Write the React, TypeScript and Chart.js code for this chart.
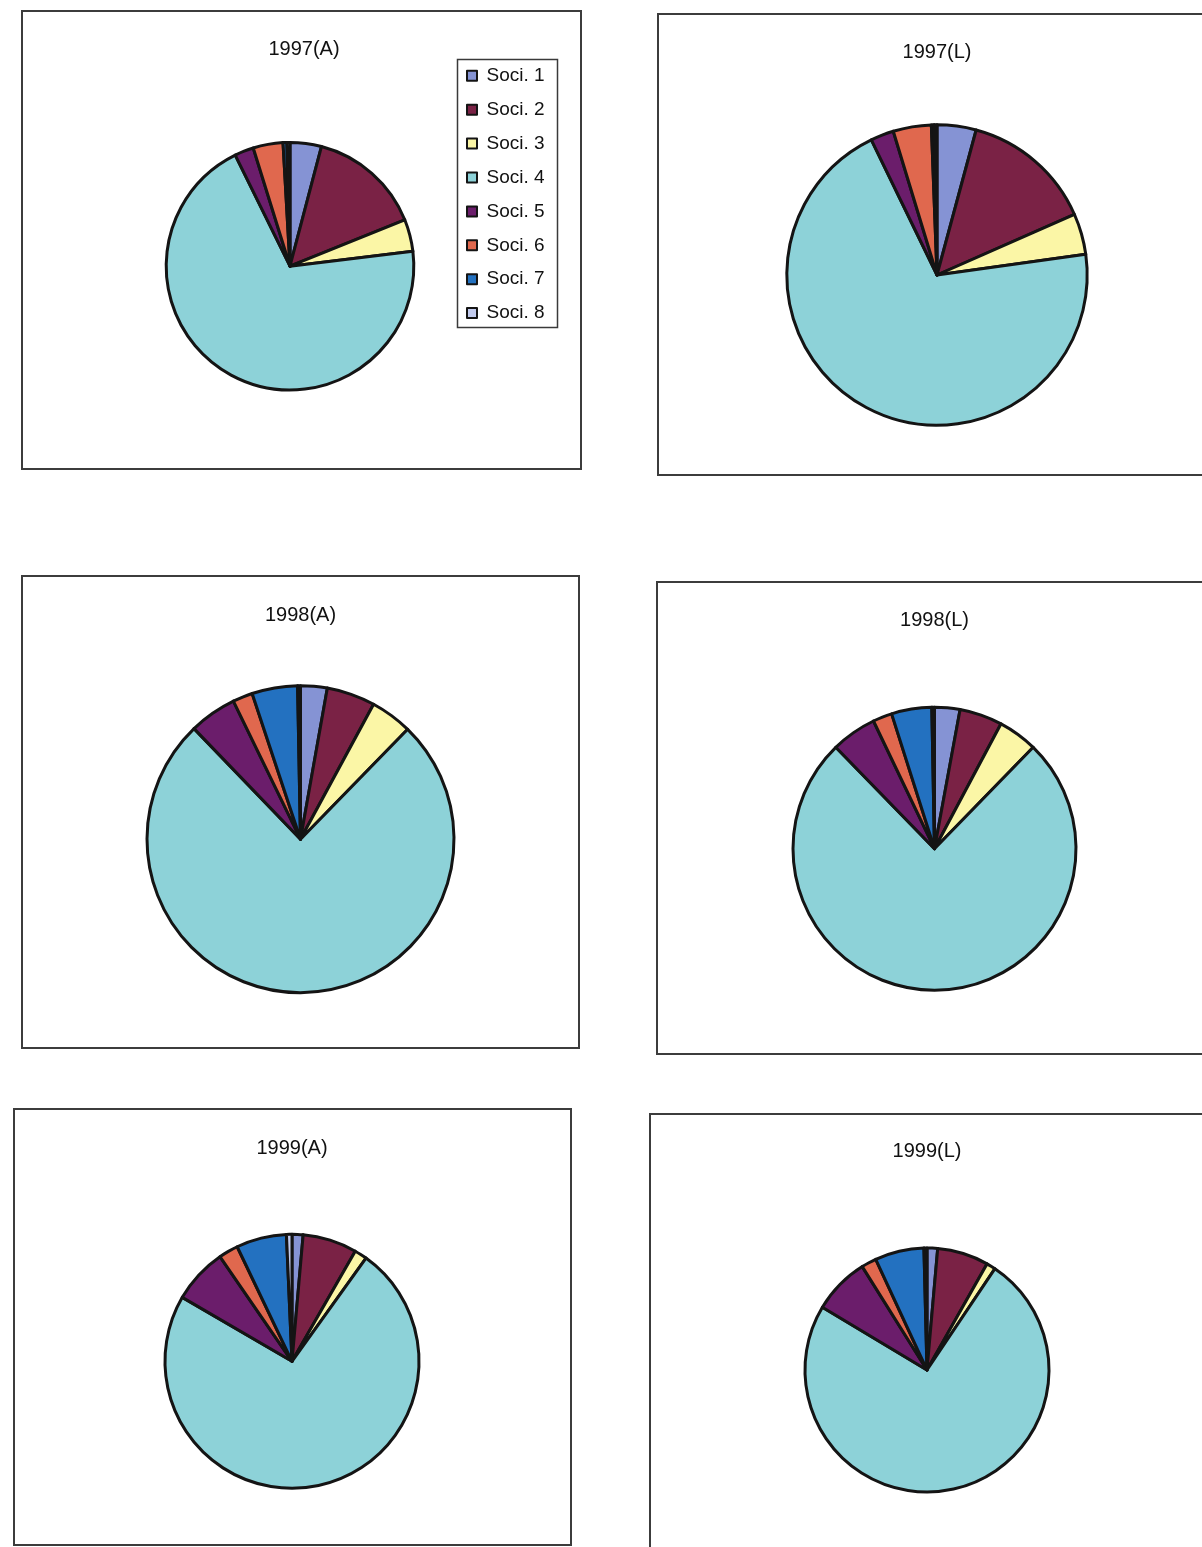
import React, { useEffect, useRef } from 'react';
import { Chart, registerables } from 'chart.js';

Chart.register(...registerables);

// Shareholder groups, in slice order (clockwise from 12 o'clock)
const categories = ['Soci. 1', 'Soci. 2', 'Soci. 3', 'Soci. 4', 'Soci. 5', 'Soci. 6', 'Soci. 7', 'Soci. 8'];
const sliceColors = ['#8593d4', '#7a2245', '#fbf6a6', '#8dd2d8', '#6b1d6b', '#e0684e', '#2371c0', '#c2cbee'];

const panelTitles = ['1997(A)', '1997(L)', '1998(A)', '1998(L)', '1999(A)', '1999(L)'];

// Percentage shares per group
const shares1997A = [4.1, 14.8, 4.2, 69.7, 2.5, 3.9, 0.5, 0.4];
const shares1997L = [4.2, 14.2, 4.4, 70.0, 2.5, 4.1, 0.3, 0.3];
const shares1998A = [2.8, 5.1, 4.4, 75.5, 5.0, 2.1, 4.8, 0.3];
const shares1998L = [2.9, 4.9, 4.5, 75.5, 5.2, 2.2, 4.6, 0.3];
const shares1999A = [1.4, 6.9, 1.6, 73.5, 7.0, 2.5, 6.4, 0.7];
const shares1999L = [1.4, 6.8, 1.2, 74.2, 7.5, 2.0, 6.5, 0.4];

const panelSeries = [shares1997A, shares1997L, shares1998A, shares1998L, shares1999A, shares1999L];

const FONT = "'Liberation Sans', Arial, Helvetica, sans-serif";
const TITLE_SIZE = 20;
const LINE_H = TITLE_SIZE * 1.2;
const LEGEND_SIZE = 19;
const LEGEND_PAD = 14.9;
const LEGEND_BOX = 10;
const OUTLINE = '#141414';

type PanelLayout = {
  frame: [number, number, number, number]; // left, top, right, bottom
  cx: number;
  cy: number;
  r: number;
  titleX: number;
  titleY: number;
  legend?: { boxLeft: number; firstRowY: number };
};

const panelLayouts: PanelLayout[] = [
  { frame: [21, 10, 582, 470], cx: 290, cy: 266.2, r: 123.8, titleX: 304, titleY: 49.3, legend: { boxLeft: 467, firstRowY: 75.8 } },
  { frame: [657, 13, 1212, 476], cx: 936.7, cy: 275, r: 150.2, titleX: 936.7, titleY: 52 },
  { frame: [21, 575, 580, 1049], cx: 300, cy: 839.2, r: 153.5, titleX: 300, titleY: 615 },
  { frame: [656, 581, 1212, 1055], cx: 934.7, cy: 848.7, r: 141.5, titleX: 934.7, titleY: 620 },
  { frame: [13, 1108, 572, 1546], cx: 292, cy: 1361.3, r: 127, titleX: 292, titleY: 1148 },
  { frame: [649, 1113, 1212, 1565], cx: 926.7, cy: 1370, r: 122, titleX: 926.7, titleY: 1151 },
];

// Width the vertical legend takes: padding + box + gap + widest label + 10
function legendWidth() {
  const ctx = document.createElement('canvas').getContext('2d')!;
  ctx.font = `${LEGEND_SIZE}px ${FONT}`;
  const textW = Math.max(...categories.map((c) => ctx.measureText(c).width));
  return LEGEND_PAD + LEGEND_BOX + LEGEND_SIZE / 2 + textW + 10;
}

function geometry(l: PanelLayout) {
  const top = l.frame[1] + 3;
  const padTitleTop = l.titleY - top - LINE_H / 2;
  if (l.legend) {
    const left = l.frame[0] + 1;
    const W = l.frame[2] - 1 - left;
    const legendLeft = l.legend.boxLeft - LEGEND_PAD;
    const legendRight = legendLeft + legendWidth();
    const boxLeft = 2 * l.titleX - legendRight; // title is centred over [boxLeft, legendRight]
    const chartTop = l.legend.firstRowY - LEGEND_SIZE / 2 - LEGEND_PAD;
    const padTitleBottom = chartTop - (top + padTitleTop + LINE_H);
    const chartBottomRel = 2 * (l.cy - top) - (chartTop - top);
    const H = Math.ceil(chartBottomRel);
    return {
      left, top, W, H,
      padTitleTop, padTitleBottom,
      padding: { left: boxLeft - left, right: left + W - legendRight, top: 0, bottom: H - chartBottomRel },
      anchorX: l.cx - left,
    };
  }
  const W = Math.round(l.r * 2 + 40);
  const left = l.cx - W / 2;
  const chartTopRel = padTitleTop + LINE_H;
  const chartBottomRel = 2 * (l.cy - top) - chartTopRel;
  const H = Math.ceil(chartBottomRel);
  return {
    left, top, W, H,
    padTitleTop, padTitleBottom: 0,
    padding: { left: 0, right: 0, top: 0, bottom: H - chartBottomRel },
    anchorX: null as number | null,
  };
}

// Keeps the pie centred on a given x inside the plot area next to the legend
const pieAnchorPlugin = {
  id: 'pieAnchor',
  afterLayout(chart: any, _args: any, opts: any) {
    if (!opts || typeof opts.x !== 'number') return;
    const area = chart.chartArea;
    const shift = opts.x - (area.left + area.right) / 2;
    area.left += shift;
    area.right += shift;
  },
};

// Thin frame around the legend entries
const legendFramePlugin = {
  id: 'legendFrame',
  afterDraw(chart: any, _args: any, opts: any) {
    if (!opts || !opts.display) return;
    const boxes = chart.legend && chart.legend.legendHitBoxes;
    if (!boxes || !boxes.length) return;
    const l = Math.min(...boxes.map((b: any) => b.left)) - 10;
    const r = Math.max(...boxes.map((b: any) => b.left + b.width)) + 12;
    const t = boxes[0].top - 7;
    const last = boxes[boxes.length - 1];
    const b = last.top + last.height + 5;
    const ctx = chart.ctx;
    ctx.save();
    ctx.strokeStyle = '#3a3a3a';
    ctx.lineWidth = 1.5;
    ctx.strokeRect(Math.round(l) + 0.5, Math.round(t) + 0.5, Math.round(r - l), Math.round(b - t));
    ctx.restore();
  },
};

function PiePanel({ title, values, layout }: { title: string; values: number[]; layout: PanelLayout }) {
  const ref = useRef<HTMLCanvasElement>(null);
  const geo = geometry(layout);

  useEffect(() => {
    if (!ref.current) return;
    const baseLabels = (Chart as any).overrides.doughnut.plugins.legend.labels.generateLabels;
    const chart = new Chart(ref.current, {
      type: 'doughnut',
      data: {
        labels: categories,
        datasets: [
          {
            data: values,
            backgroundColor: sliceColors,
            borderColor: OUTLINE,
            borderWidth: 3,
            borderJoinStyle: 'round',
            hoverOffset: 0,
            radius: layout.r,
          } as any,
        ],
      },
      options: {
        responsive: false,
        animation: false,
        events: [],
        cutout: 0,
        rotation: 0,
        circumference: 360,
        layout: { padding: geo.padding },
        plugins: {
          title: {
            display: true,
            text: title,
            color: '#111',
            font: { family: FONT, size: TITLE_SIZE, weight: 'normal', lineHeight: 1.2 },
            padding: { top: geo.padTitleTop, bottom: geo.padTitleBottom },
          },
          legend: layout.legend
            ? {
                display: true,
                position: 'right',
                align: 'start',
                fullSize: false,
                labels: {
                  color: '#111',
                  font: { family: FONT, size: LEGEND_SIZE },
                  boxWidth: LEGEND_BOX,
                  boxHeight: LEGEND_BOX,
                  padding: LEGEND_PAD,
                  generateLabels: (c: any) =>
                    baseLabels(c).map((item: any) => ({ ...item, lineWidth: 2, strokeStyle: OUTLINE })),
                },
              }
            : { display: false },
          tooltip: { enabled: false },
          legendFrame: { display: !!layout.legend },
          pieAnchor: { x: geo.anchorX },
        } as any,
      },
      plugins: [pieAnchorPlugin, legendFramePlugin],
    } as any);
    return () => chart.destroy();
  }, []);

  const [fl, ft, fr, fb] = layout.frame;
  return (
    <>
      <div
        style={{
          position: 'absolute',
          left: fl,
          top: ft,
          width: fr - fl,
          height: fb - ft,
          border: '2px solid #3c3c3c',
          boxSizing: 'border-box',
        }}
      />
      <canvas
        ref={ref}
        width={geo.W}
        height={geo.H}
        style={{ position: 'absolute', left: geo.left, top: geo.top, width: geo.W, height: geo.H }}
      />
    </>
  );
}

export default function App() {
  return (
    <div
      style={{
        position: 'absolute',
        left: 0,
        top: 0,
        width: 1202,
        height: 1547,
        overflow: 'hidden',
        background: '#fff',
      }}
    >
      {panelLayouts.map((layout, i) => (
        <PiePanel key={panelTitles[i]} title={panelTitles[i]} values={panelSeries[i]} layout={layout} />
      ))}
    </div>
  );
}
